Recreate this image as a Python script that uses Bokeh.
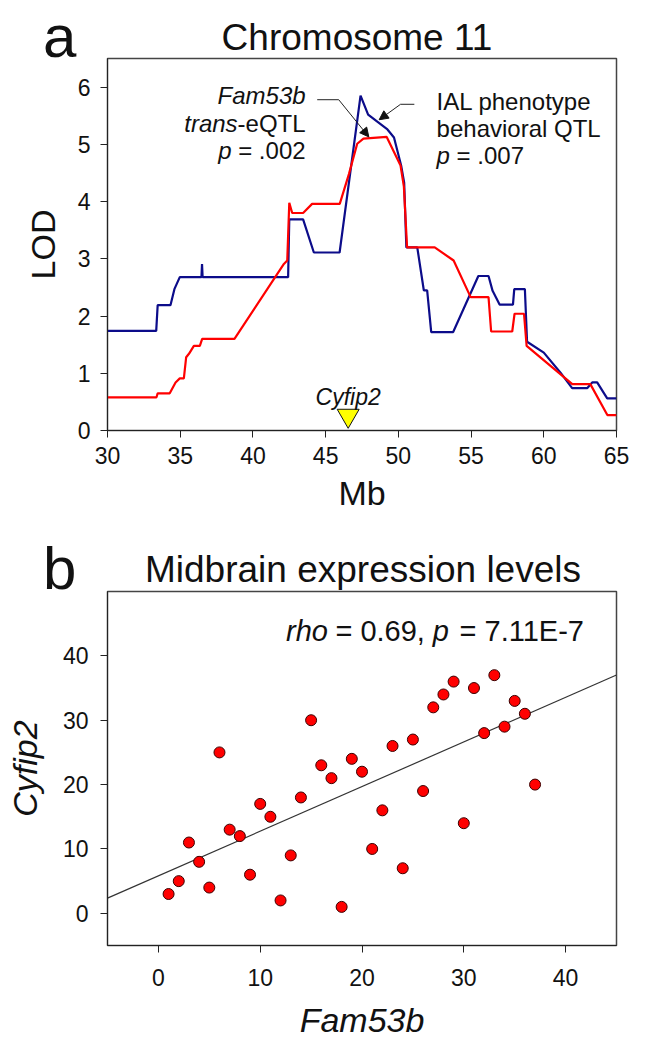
from bokeh.plotting import figure
from bokeh.layouts import column
from bokeh.models import Range1d, FixedTicker, Label, Arrow, NormalHead, Div
from bokeh.embed import file_html
from bokeh.resources import INLINE
import numpy as np

FONT = "Liberation Sans"

# ---------------- Panel a data: LOD profiles on chromosome 11 ----------------
ial_mb = [30.0, 33.35, 33.45, 34.33, 34.6, 34.97, 36.46, 36.5, 36.54, 42.42, 42.5, 43.45,
          44.19, 45.96, 47.4, 47.92, 49.25, 49.7, 50.2, 50.4, 50.55, 51.3, 51.75, 51.98,
          52.26, 53.77, 55.5, 56.2, 56.48, 56.96, 57.88, 57.97, 58.7, 58.85, 60.0, 61.15,
          61.95, 62.98, 63.33, 63.67, 64.36, 65.0]
ial_lod = [1.74, 1.74, 2.19, 2.19, 2.47, 2.68, 2.68, 2.91, 2.68, 2.68, 3.69, 3.69,
           3.11, 3.11, 5.85, 5.52, 5.26, 5.12, 4.62, 4.33, 3.20, 3.20, 2.45, 2.45,
           1.72, 1.72, 2.70, 2.70, 2.44, 2.20, 2.20, 2.47, 2.47, 1.55, 1.36, 1.01,
           0.74, 0.74, 0.84, 0.84, 0.56, 0.56]

fam53b_mb = [30.0, 33.37, 33.45, 34.28, 34.68, 34.97, 35.25, 35.41, 35.6, 35.94, 36.35,
             36.51, 38.73, 42.13, 42.36, 42.5, 42.7, 43.45, 44.07, 45.97, 46.6, 47.17,
             47.6, 49.2, 50.15, 50.38, 50.6, 52.5, 53.8, 54.97, 56.2, 56.38, 57.83, 57.99,
             58.64, 58.82, 61.96, 63.2, 64.37, 65.0]
fam53b_lod = [0.58, 0.58, 0.65, 0.65, 0.84, 0.91, 0.91, 1.28, 1.34, 1.48, 1.48,
              1.60, 1.60, 2.91, 2.97, 3.98, 3.80, 3.80, 3.96, 3.96, 4.48, 5.01,
              5.10, 5.13, 4.63, 4.26, 3.20, 3.20, 2.97, 2.33, 2.33, 1.73, 1.73, 2.04,
              2.04, 1.48, 0.81, 0.81, 0.27, 0.27]

cyfip2_position_mb = [46.55]
a_xticks = [30, 35, 40, 45, 50, 55, 60, 65]
a_yticks = [0, 1, 2, 3, 4, 5, 6]

# ---------------- Panel b data: midbrain expression (ranks) ----------------
fam53b_expr = [1, 2, 3, 4, 5, 6, 7, 8, 9, 10, 11, 12, 13, 14, 15, 16, 17, 18, 19,
               20, 21, 22, 23, 24, 25, 26, 27, 28, 29, 30, 31, 32, 33, 34, 35, 36, 37]
cyfip2_expr = [3, 5, 11, 8, 4, 25, 13, 12, 6, 17, 15, 2, 9, 18, 30, 23, 21, 1, 24,
               22, 10, 16, 26, 7, 27, 19, 32, 34, 36, 14, 35, 28, 37, 29, 33, 31, 20]
b_xticks = [0, 10, 20, 30, 40]
b_yticks = [0, 10, 20, 30, 40]

LEFT, FRAME_W, RIGHT = 107, 509, 25
TOTAL_W = LEFT + FRAME_W + RIGHT


def style_axes(p, xstand, xlabstand, ystand, ylabstand, italic_labels=False):
    for ax in (p.xaxis[0], p.yaxis[0]):
        ax.major_label_text_font = FONT
        ax.major_label_text_font_size = "23px"
        ax.major_label_text_color = "#111111"
        ax.axis_label_text_font = FONT
        ax.axis_label_text_font_size = "34px"
        ax.axis_label_text_color = "#111111"
        ax.axis_label_text_font_style = "italic" if italic_labels else "normal"
        ax.minor_tick_line_color = None
        ax.major_tick_out = 7
        ax.major_tick_in = 0
        ax.major_tick_line_color = "#222222"
        ax.axis_line_color = "#222222"
    p.xaxis[0].major_label_standoff = xstand
    p.xaxis[0].axis_label_standoff = xlabstand
    p.yaxis[0].major_label_standoff = ystand
    p.yaxis[0].axis_label_standoff = ylabstand
    p.grid.visible = False
    p.outline_line_color = "#444444"
    p.outline_line_width = 1.5


def header(height, letter, letter_top, title, title_top, title_left):
    base = ("position:absolute;white-space:nowrap;margin:0;padding:0;color:#111111;"
            "font-family:'%s';font-weight:normal;font-style:normal;line-height:1;" % FONT)
    html = (
        '<div style="position:relative;width:%dpx;height:%dpx;overflow:visible;margin:0;padding:0;">'
        '<span style="%sleft:43px;top:%.1fpx;font-size:60px;">%s</span>'
        '<div style="%sleft:%dpx;top:%.1fpx;width:500px;text-align:center;font-size:37px;">%s</div>'
        '</div>' % (TOTAL_W, height, base, letter_top, letter, base, title_left, title_top, title)
    )
    return Div(text=html, width=TOTAL_W, height=height, margin=0)


def lab(p, x, y, text, size, align="left", italic=False, xoff=0):
    p.add_layout(Label(x=x, y=y, text=text, text_font=FONT, text_font_size=size,
                       text_align=align, text_baseline="alphabetic", x_offset=xoff,
                       text_color="#111111",
                       text_font_style="italic" if italic else "normal"))


# ---------------- Panel a ----------------
head_a = header(57, "a", 6.5, "Chromosome 11", 18.7, 107)

p1 = figure(frame_width=FRAME_W, frame_height=372, x_range=Range1d(30, 65), y_range=Range1d(0, 6.5),
            output_backend="svg", toolbar_location=None, title=None,
            min_border_left=LEFT, min_border_right=RIGHT, min_border_top=1, min_border_bottom=89,
            x_axis_label="Mb", y_axis_label="LOD")
p1.xaxis.ticker = FixedTicker(ticks=a_xticks)
p1.yaxis.ticker = FixedTicker(ticks=a_yticks)
style_axes(p1, 9, 7, 10, 13)

p1.line(ial_mb, ial_lod, line_color="#0c0c8a", line_width=2.2)
p1.line(fam53b_mb, fam53b_lod, line_color="#ff0000", line_width=2.2)
p1.scatter(cyfip2_position_mb, [0.26], marker="inverted_triangle", size=22,
           fill_color="#ffff00", line_color="#111111", line_width=1)

lab(p1, 46.55, 0.58, "Cyfip2", "23px", align="center", italic=True)

# Fam53b trans-eQTL annotation (right aligned)
fx = 43.62
lab(p1, fx, 5.85, "Fam53b", "24px", align="right", italic=True)
lab(p1, fx, 5.36, "-eQTL", "24px", align="right")
lab(p1, fx, 5.36, "trans", "24px", align="right", italic=True, xoff=-68)
lab(p1, fx, 4.89, "= .002", "24px", align="right")
lab(p1, fx, 4.89, "p", "24px", align="right", italic=True, xoff=-74)

# IAL behavioral QTL annotation (left aligned)
ix = 52.63
lab(p1, ix, 5.74, "IAL phenotype", "24px")
lab(p1, ix, 5.27, "behavioral QTL", "24px")
lab(p1, ix, 4.80, "p", "24px", italic=True)
lab(p1, ix, 4.80, "= .007", "24px", xoff=20)

# arrows
p1.add_layout(Arrow(end=None, x_start=44.42, y_start=5.78, x_end=45.9, y_end=5.78,
                    line_color="#222222", line_width=1))
p1.add_layout(Arrow(end=NormalHead(size=9, fill_color="#111111", line_color="#111111"),
                    x_start=45.9, y_start=5.78, x_end=47.97, y_end=5.13,
                    line_color="#222222", line_width=1))
p1.add_layout(Arrow(end=None, x_start=51.1, y_start=5.70, x_end=50.15, y_end=5.70,
                    line_color="#222222", line_width=1))
p1.add_layout(Arrow(end=NormalHead(size=9, fill_color="#111111", line_color="#111111"),
                    x_start=50.15, y_start=5.70, x_end=48.68, y_end=5.43,
                    line_color="#222222", line_width=1))

# ---------------- Panel b ----------------
head_b = header(71, "b", 20.0, "Midbrain expression levels", 31.7, 113)

xr = Range1d(-5, 45)
p2 = figure(frame_width=FRAME_W, frame_height=354, x_range=xr, y_range=Range1d(-5, 50),
            output_backend="svg", toolbar_location=None, title=None,
            min_border_left=LEFT, min_border_right=RIGHT, min_border_top=1, min_border_bottom=96,
            x_axis_label="Fam53b", y_axis_label="Cyfip2")
p2.xaxis.ticker = FixedTicker(ticks=b_xticks)
p2.yaxis.ticker = FixedTicker(ticks=b_yticks)
style_axes(p2, 16, 12, 12, 16, italic_labels=True)

slope, intercept = np.polyfit(fam53b_expr, cyfip2_expr, 1)
lx = [xr.start, xr.end]
p2.line(lx, [intercept + slope * v for v in lx], line_color="#333333", line_width=1.2)
p2.scatter(fam53b_expr, cyfip2_expr, marker="circle", size=11, fill_color="#ff0000",
           line_color="#3a0000", line_width=1)

rx, ry = 41.8, 43.8
lab(p2, rx, ry, "= 7.11E-7", "29px", align="right")
lab(p2, rx, ry, "p", "29px", align="right", italic=True, xoff=-135)
lab(p2, rx, ry, "= 0.69,", "29px", align="right", xoff=-159)
lab(p2, rx, ry, "rho", "29px", align="right", italic=True, xoff=-256)

layout = column(head_a, p1, head_b, p2, spacing=0)
open("out.html", "w").write(file_html(layout, INLINE))
